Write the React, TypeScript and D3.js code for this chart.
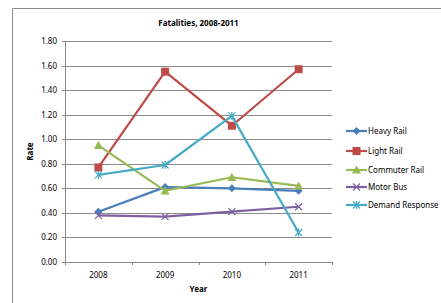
import React from "react";
import * as d3 from "d3";

const years = ["2008", "2009", "2010", "2011"];
const heavyRail = [0.41, 0.61, 0.6, 0.58];
const lightRail = [0.77, 1.55, 1.11, 1.57];
const commuterRail = [0.95, 0.58, 0.69, 0.62];
const motorBus = [0.38, 0.37, 0.41, 0.45];
const demandResponse = [0.71, 0.79, 1.19, 0.24];
const yTicks = [0, 0.2, 0.4, 0.6, 0.8, 1.0, 1.2, 1.4, 1.6, 1.8];

const seriesNames = ["Heavy Rail", "Light Rail", "Commuter Rail", "Motor Bus", "Demand Response"];
const seriesValues = [heavyRail, lightRail, commuterRail, motorBus, demandResponse];
const seriesColors = ["#4A7EBB", "#BE4B48", "#98B954", "#7D60A0", "#46AAC5"];
const seriesMarkers = ["diamond", "square", "triangle", "x", "star"];

const FONT = "'Noto Sans', 'Liberation Sans', sans-serif";

function Marker({ type, x, y, color }: { type: string; x: number; y: number; color: string }) {
  if (type === "diamond") {
    const s = 4;
    return <path d={`M${x},${y - s}L${x + s},${y}L${x},${y + s}L${x - s},${y}Z`} fill={color} />;
  }
  if (type === "square") {
    const s = 4;
    return <rect x={x - s} y={y - s} width={2 * s} height={2 * s} fill={color} />;
  }
  if (type === "triangle") {
    const s = 4.5;
    return <path d={`M${x},${y - s}L${x + s},${y + s * 0.8}L${x - s},${y + s * 0.8}Z`} fill={color} />;
  }
  if (type === "x") {
    const s = 3.5;
    return (
      <path d={`M${x - s},${y - s}L${x + s},${y + s}M${x - s},${y + s}L${x + s},${y - s}`} stroke={color} strokeWidth={1.2} fill="none" />
    );
  }
  const s = 3.5;
  return (
    <path
      d={`M${x - s},${y - s}L${x + s},${y + s}M${x - s},${y + s}L${x + s},${y - s}M${x},${y - s - 0.5}L${x},${y + s + 0.5}`}
      stroke={color}
      strokeWidth={1.2}
      fill="none"
    />
  );
}

export default function App() {
  const W = 441;
  const H = 303;
  const left = 65;
  const right = 332;
  const top = 41;
  const bottom = 262;

  const x = d3.scaleBand<string>().domain(years).range([left, right]);
  const y = d3.scaleLinear().domain([0, 1.8]).range([bottom, top]);
  const line = d3
    .line<number>()
    .x((_, i) => (x(years[i]) as number) + x.bandwidth() / 2)
    .y((d) => y(d));

  const legendX = 346;
  const legendY = [131, 151, 170, 187, 205];

  return (
    <svg width={W} height={H} style={{ position: "absolute", left: 0, top: 0 }}>
      <rect x={0} y={0} width={W} height={H} fill="#fff" />
      <path d={`M12.5,${H}L12.5,8.5L${W},8.5`} stroke="#8c8c8c" fill="none" />
      {yTicks.map((t) => (
        <g key={t}>
          <line x1={left - 3} x2={right} y1={Math.round(y(t)) + 0.5} y2={Math.round(y(t)) + 0.5} stroke={t === 0 ? "#868686" : "#8c8c8c"} strokeWidth={1} />
          <text x={left - 8} y={y(t) + 3} textAnchor="end" fontSize={8} fontFamily={FONT} fill="#000">
            {t.toFixed(2)}
          </text>
        </g>
      ))}
      <line x1={left + 0.5} x2={left + 0.5} y1={top} y2={bottom} stroke="#868686" />
      {years.map((yr, i) => (
        <g key={yr}>
          <line
            x1={Math.round((x(yr) as number) + x.bandwidth()) + 0.5}
            x2={Math.round((x(yr) as number) + x.bandwidth()) + 0.5}
            y1={bottom}
            y2={bottom + 3}
            stroke="#868686"
          />
          <text x={(x(yr) as number) + x.bandwidth() / 2} y={bottom + 16} textAnchor="middle" fontSize={8} fontFamily={FONT}>
            {yr}
          </text>
        </g>
      ))}
      <line x1={left + 0.5} x2={left + 0.5} y1={bottom} y2={bottom + 3} stroke="#868686" />
      <text x={(left + right) / 2} y={26} textAnchor="middle" fontSize={8} fontWeight="bold" fontFamily={FONT}>
        Fatalities, 2008-2011
      </text>
      <text x={(left + right) / 2} y={292} textAnchor="middle" fontSize={8} fontWeight="bold" fontFamily={FONT}>
        Year
      </text>
      <text
        transform={`translate(33,${(top + bottom) / 2}) rotate(-90)`}
        textAnchor="middle"
        fontSize={8}
        fontWeight="bold"
        fontFamily={FONT}
      >
        Rate
      </text>
      {seriesValues.map((vals, si) => (
        <g key={seriesNames[si]}>
          <path d={line(vals) as string} stroke={seriesColors[si]} strokeWidth={2.2} fill="none" strokeLinejoin="round" />
          {vals.map((v, i) => (
            <Marker key={i} type={seriesMarkers[si]} x={(x(years[i]) as number) + x.bandwidth() / 2} y={y(v)} color={seriesColors[si]} />
          ))}
        </g>
      ))}
      {seriesNames.map((n, si) => (
        <g key={n}>
          <line x1={legendX} x2={legendX + 21} y1={legendY[si]} y2={legendY[si]} stroke={seriesColors[si]} strokeWidth={2.2} />
          <Marker type={seriesMarkers[si]} x={legendX + 10.5} y={legendY[si]} color={seriesColors[si]} />
          <text x={legendX + 22} y={legendY[si] + 3} fontSize={8} fontFamily={FONT}>
            {n}
          </text>
        </g>
      ))}
    </svg>
  );
}
